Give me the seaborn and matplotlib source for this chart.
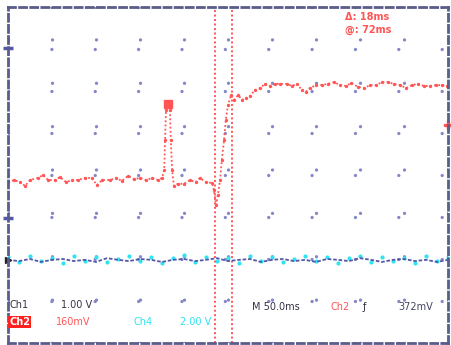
#!/usr/bin/env python3
"""
Redraw a scope capture: Ch2 step with glitch, Ch1/Ch4 flat traces, two time cursors.
Everything is in screen divisions (10 x 8 graticule).
"""
import matplotlib

matplotlib.use("Agg")
import matplotlib.pyplot as plt
import numpy as np
import pandas as pd
import seaborn as sns

# Ch2 (red) samples in divisions
ch2_x = [0.00, 0.14, 0.27, 0.39, 0.50, 0.68, 0.80, 0.91, 1.07, 1.18,
         1.32, 1.45, 1.59, 1.75, 1.91, 2.02, 2.14, 2.32, 2.45, 2.59,
         2.73, 2.86, 3.00, 3.14, 3.27, 3.41,
         3.50, 3.55, 3.57, 3.59, 3.64, 3.68, 3.70, 3.73, 3.77, 3.86,
         4.00, 4.14, 4.27, 4.36, 4.50, 4.64, 4.68, 4.73, 4.77, 4.82,
         4.86, 4.91, 4.95, 5.00, 5.07, 5.14, 5.23, 5.32, 5.41, 5.50,
         5.61, 5.73, 5.84, 5.95, 6.07, 6.18, 6.34, 6.45, 6.57, 6.68,
         6.77, 6.86, 7.00, 7.14, 7.27, 7.41, 7.55, 7.68, 7.80, 7.95,
         8.09, 8.23, 8.36, 8.50, 8.64, 8.77, 8.91, 9.05, 9.18, 9.32,
         9.45, 9.59, 9.73, 9.86, 9.98]
ch2_y = [3.83, 3.88, 3.83, 3.74, 3.88, 3.93, 4.00, 3.88, 3.88, 3.95,
         3.83, 3.88, 3.88, 3.93, 3.93, 3.76, 3.88, 3.88, 3.93, 3.86,
         3.98, 3.90, 3.93, 3.88, 3.93, 3.88,
         3.93, 4.12, 4.83, 5.55, 5.69, 5.55, 4.83, 4.12, 3.74, 3.79,
         3.79, 3.88, 3.83, 3.93, 3.83, 3.81, 3.64, 3.29, 3.52, 3.88,
         4.36, 4.83, 5.31, 5.67, 5.90, 5.79, 5.90, 5.79, 5.83, 5.88,
         6.02, 6.07, 6.17, 6.12, 6.17, 6.17, 6.17, 6.12, 6.17, 6.02,
         5.98, 6.07, 6.14, 6.14, 6.17, 6.21, 6.14, 6.12, 6.19, 6.10,
         6.07, 6.14, 6.14, 6.21, 6.21, 6.17, 6.14, 6.07, 6.14, 6.17,
         6.12, 6.12, 6.14, 6.14, 6.12]

# Ch1 (navy) and Ch4 (cyan), sampled every quarter division
ch1_y = [1.98, 1.95, 2.00, 1.93, 1.98, 2.00, 1.95, 1.98, 1.93, 2.02,
         1.98, 1.95, 2.00, 1.98, 1.93, 1.98, 2.00, 1.95, 1.98, 2.02,
         1.95, 1.98, 2.00, 1.93, 1.98, 2.00, 1.95, 1.98, 1.93, 2.00,
         1.98, 1.95, 2.02, 1.98, 1.93, 1.98, 2.00, 1.95, 1.98, 1.93, 1.98]
ch4_y = [2.05, 1.93, 2.07, 1.95, 2.02, 1.90, 2.07, 1.95, 2.05, 1.93,
         2.00, 2.07, 1.95, 2.05, 1.90, 2.02, 2.10, 1.93, 2.05, 1.95,
         2.02, 1.90, 2.07, 1.95, 2.05, 1.93, 2.00, 2.07, 1.95, 2.05,
         1.90, 2.02, 2.07, 1.93, 2.05, 1.95, 2.02, 1.90, 2.07, 1.95, 2.02]
sample_x = np.linspace(0, 10, len(ch1_y))

cursor_x = [4.70, 5.09]
glitch_idx = 30  # peak of the Ch2 glitch, where the scope put its marker

RED = "#ff5555"
NAVY = "#5558a8"
CYAN = "#2ee4f0"
GRID = "#8588c8"

ch2 = pd.DataFrame({"x": ch2_x, "y": ch2_y})
ch1 = pd.DataFrame({"x": sample_x, "y": ch1_y})
ch4 = pd.DataFrame({"x": sample_x, "y": ch4_y})

sns.set_theme(style="white")
plt.rcParams["font.family"] = ["DejaVu Sans"]

fig = plt.figure(figsize=(4.51, 3.45), dpi=100)
ax = fig.add_axes([8 / 451, 2 / 345, 440 / 451, 336 / 345])

# graticule: sparse round dots on every division line
ax.set_xlim(0, 10)
ax.set_ylim(0, 8)
ax.set_xticks(range(11))
ax.set_yticks(range(9))
ax.tick_params(length=0, labelbottom=False, labelleft=False)
ax.grid(True, color=GRID, linewidth=2.4, linestyle=(0, (0.01, 13)), dash_capstyle="round")
for side in ax.spines.values():
    side.set_color("#5a5c8a")
    side.set_linewidth(2.0)
    side.set_linestyle((0, (2.5, 1.5)))

for cx in cursor_x:
    ax.axvline(cx, color=RED, linewidth=1.4, linestyle=(0, (1, 1.3)))

sns.lineplot(data=ch1, x="x", y="y", ax=ax, color=NAVY, linewidth=1.3, linestyle=(0, (2, 1)))
sns.scatterplot(data=ch4, x="x", y="y", ax=ax, color=CYAN, s=9, linewidth=0)
sns.lineplot(data=ch2, x="x", y="y", ax=ax, color=RED, linewidth=1.3, linestyle=(0, (1, 1.3)),
             marker="o", markersize=2.4, markeredgewidth=0)
ax.plot(ch2_x[glitch_idx], ch2_y[glitch_idx], marker="s", markersize=6, color=RED)
ax.set_xlabel("")
ax.set_ylabel("")

# channel level markers on the screen edges
ax.plot(0, 7.02, marker="_", markersize=7, mew=2.5, color=NAVY, clip_on=False)
ax.plot(0, 2.98, marker="_", markersize=7, mew=2.5, color=NAVY, clip_on=False)
ax.plot(0, 1.98, marker=">", markersize=5, color="#222233", clip_on=False)
ax.plot(10, 5.19, marker="P", markersize=6, color=RED, clip_on=False)

# readouts
fs = 7
ax.text(7.66, 7.76, "Δ: 18ms", color=RED, fontsize=fs, fontweight="bold", va="center")
ax.text(7.66, 7.45, "@: 72ms", color=RED, fontsize=fs, fontweight="bold", va="center")

ax.text(0.03, 0.90, "Ch1", color="#333344", fontsize=fs, va="center")
ax.text(1.20, 0.90, "1.00 V", color="#333344", fontsize=fs, va="center")
ax.text(0.03, 0.50, "Ch2", color="white", fontsize=fs, fontweight="bold", va="center",
        bbox=dict(boxstyle="square,pad=0.1", facecolor="#ff2020", edgecolor="none"))
ax.text(1.09, 0.50, "160mV", color=RED, fontsize=fs, va="center")
ax.text(2.85, 0.50, "Ch4", color=CYAN, fontsize=fs, va="center")
ax.text(3.90, 0.50, "2.00 V", color=CYAN, fontsize=fs, va="center")

ax.text(5.55, 0.86, "M 50.0ms", color="#333344", fontsize=fs, va="center")
ax.text(7.32, 0.86, "Ch2", color=RED, fontsize=fs, va="center")
ax.text(8.05, 0.86, "ƒ", color="#333344", fontsize=fs, va="center")
ax.text(8.86, 0.86, "372mV", color="#444466", fontsize=fs, va="center")

fig.savefig("out.png", dpi=100)
